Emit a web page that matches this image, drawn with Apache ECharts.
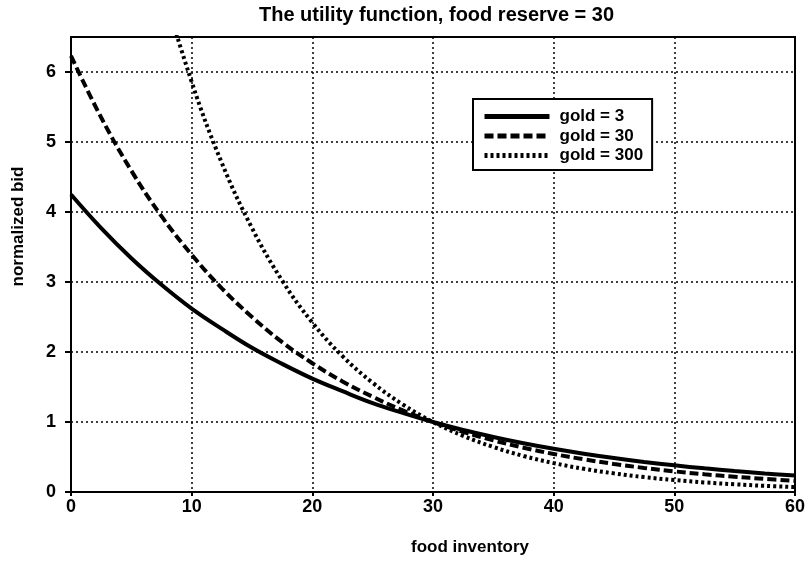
<!DOCTYPE html>
<html>
<head>
<meta charset="utf-8">
<script src="https://cdn.jsdelivr.net/npm/echarts@6/dist/echarts.min.js"></script>
<style>html,body{margin:0;padding:0;background:#fff}#c{width:809px;height:561px}</style>
</head>
<body>
<div id="c"></div>
<script>
var foodInventory = [0,2.5,5,7.5,10,12.5,15,17.5,20,22.5,25,27.5,30,32.5,35,37.5,40,42.5,45,47.5,50,52.5,55,57.5,60];
var gold3   = [4.25,3.77,3.34,2.96,2.62,2.33,2.06,1.83,1.62,1.44,1.27,1.13,1.00,0.886,0.786,0.696,0.617,0.547,0.485,0.430,0.381,0.338,0.299,0.265,0.235];
var gold30  = [6.23,5.35,4.59,3.94,3.39,2.91,2.50,2.14,1.84,1.58,1.36,1.165,1.00,0.859,0.737,0.633,0.543,0.467,0.401,0.344,0.295,0.253,0.218,0.187,0.160];
var gold300 = [14.2,11.4,9.12,7.31,5.86,4.70,3.77,3.02,2.42,1.94,1.56,1.25,1.00,0.802,0.643,0.515,0.413,0.331,0.266,0.213,0.171,0.137,0.110,0.088,0.070];
var seriesNames = ['gold = 3','gold = 30','gold = 300'];
var xTicks = [0,10,20,30,40,50,60];
var yTicks = [0,1,2,3,4,5,6];

function zip(xs, ys){ return xs.map(function(x,i){ return [x, ys[i]]; }); }
var FONT = '"Liberation Sans", Arial, Helvetica, sans-serif';
var chart = echarts.init(document.getElementById('c'), null, {renderer:'canvas'});
chart.setOption({
  animation:false,
  backgroundColor:'#fff',
  title:{
    text:'The utility function, food reserve = 30',
    left:254, top:0,
    textStyle:{fontFamily:FONT, fontSize:20, fontWeight:'bold', color:'#000'}
  },
  legend:{
    orient:'vertical', left:473, top:99,
    backgroundColor:'#fff',
    borderColor:'#000', borderWidth:2, borderRadius:0,
    padding:[9,9,6,9], itemGap:2.5, itemWidth:65, itemHeight:17,
    itemStyle:{opacity:0},
    lineStyle:{width:5},
    textStyle:{fontFamily:FONT, fontSize:17, fontWeight:'bold', color:'#000', padding:[0,0,0,5]},
    data:seriesNames
  },
  grid:{left:71, right:14, top:37, bottom:68, show:true, borderColor:'#000', borderWidth:2, backgroundColor:'transparent'},
  xAxis:{
    type:'value', min:xTicks[0], max:xTicks[xTicks.length-1], interval:10,
    name:'food inventory', nameLocation:'middle', nameGap:47,
    nameTextStyle:{fontFamily:FONT, fontSize:17, fontWeight:'bold', color:'#000', padding:[0,0,0,74]},
    axisLine:{show:true, lineStyle:{color:'#000', width:2}},
    axisTick:{show:true, length:4, lineStyle:{color:'#000', width:2}},
    axisLabel:{fontFamily:FONT, fontSize:18, fontWeight:'bold', color:'#000', margin:6},
    splitLine:{show:true, lineStyle:{color:'#000', width:1.5, type:[2,3]}}
  },
  yAxis:{
    type:'value', min:yTicks[0], max:6.5, interval:1,
    name:'normalized bid', nameLocation:'middle', nameGap:44,
    nameTextStyle:{fontFamily:FONT, fontSize:17, fontWeight:'bold', color:'#000', padding:[0,0,0,76]},
    axisLine:{show:true, lineStyle:{color:'#000', width:2}},
    axisTick:{show:true, length:6, lineStyle:{color:'#000', width:2}},
    axisLabel:{fontFamily:FONT, fontSize:18, fontWeight:'bold', color:'#000', margin:15, showMaxLabel:false},
    splitLine:{show:true, lineStyle:{color:'#000', width:1.5, type:[2,3]}}
  },
  series:[
    {name:seriesNames[0], type:'line', data:zip(foodInventory,gold3), smooth:0.4, symbol:'none', clip:true,
     itemStyle:{color:'#000'}, lineStyle:{color:'#000', width:4, type:'solid'}},
    {name:seriesNames[1], type:'line', data:zip(foodInventory,gold30), smooth:0.4, symbol:'none', clip:true,
     itemStyle:{color:'#000'}, lineStyle:{color:'#000', width:4, type:[9,4]}},
    {name:seriesNames[2], type:'line', data:zip(foodInventory,gold300), smooth:0.4, symbol:'none', clip:true,
     itemStyle:{color:'#000'}, lineStyle:{color:'#000', width:4, type:[3,3]}}
  ]
});
</script>
</body>
</html>
